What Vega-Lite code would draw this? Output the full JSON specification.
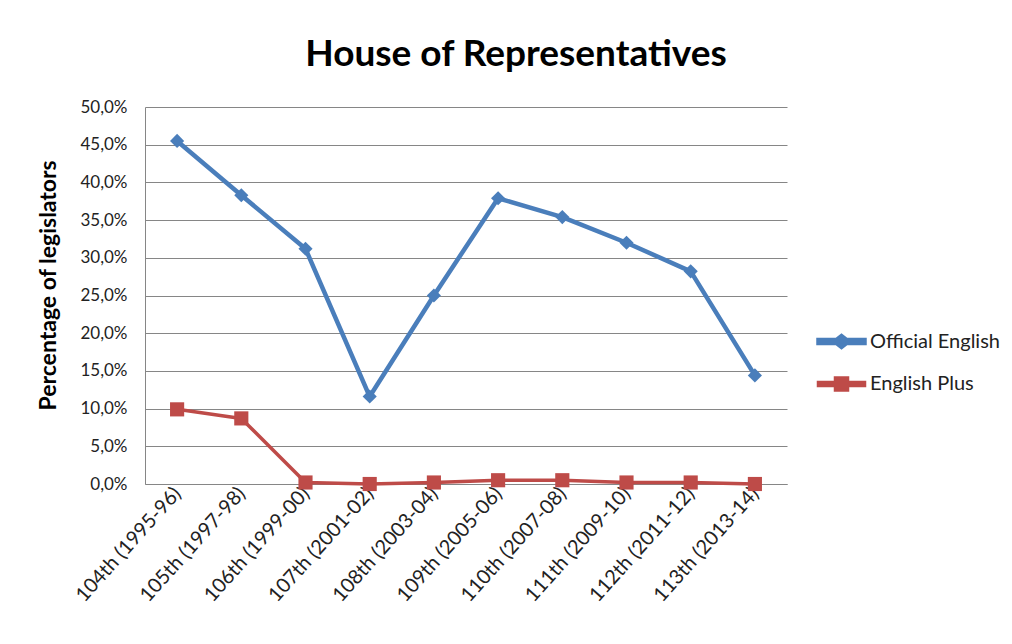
{
  "$schema": "https://vega.github.io/schema/vega-lite/v6.json",
  "autosize": {"type": "none"},
  "width": 642,
  "height": 377,
  "padding": {"left": 145, "top": 107, "right": 225, "bottom": 160},
  "background": "white",
  "config": {
    "font": "Lato",
    "view": {"stroke": null}
  },
  "title": {
    "text": "House of Representatives",
    "fontSize": 37,
    "fontWeight": "bold",
    "color": "#000000",
    "anchor": "middle",
    "frame": "group",
    "dx": 50,
    "offset": 24
  },
  "data": {
    "values": [
      {"congress": "104th (1995-96)", "series": "Official English", "pct": 0.455},
      {"congress": "105th (1997-98)", "series": "Official English", "pct": 0.383},
      {"congress": "106th (1999-00)", "series": "Official English", "pct": 0.312},
      {"congress": "107th (2001-02)", "series": "Official English", "pct": 0.116},
      {"congress": "108th (2003-04)", "series": "Official English", "pct": 0.250},
      {"congress": "109th (2005-06)", "series": "Official English", "pct": 0.379},
      {"congress": "110th (2007-08)", "series": "Official English", "pct": 0.354},
      {"congress": "111th (2009-10)", "series": "Official English", "pct": 0.320},
      {"congress": "112th (2011-12)", "series": "Official English", "pct": 0.282},
      {"congress": "113th (2013-14)", "series": "Official English", "pct": 0.144},
      {"congress": "104th (1995-96)", "series": "English Plus", "pct": 0.099},
      {"congress": "105th (1997-98)", "series": "English Plus", "pct": 0.087},
      {"congress": "106th (1999-00)", "series": "English Plus", "pct": 0.002},
      {"congress": "107th (2001-02)", "series": "English Plus", "pct": 0.000},
      {"congress": "108th (2003-04)", "series": "English Plus", "pct": 0.002},
      {"congress": "109th (2005-06)", "series": "English Plus", "pct": 0.005},
      {"congress": "110th (2007-08)", "series": "English Plus", "pct": 0.005},
      {"congress": "111th (2009-10)", "series": "English Plus", "pct": 0.002},
      {"congress": "112th (2011-12)", "series": "English Plus", "pct": 0.002},
      {"congress": "113th (2013-14)", "series": "English Plus", "pct": 0.000}
    ]
  },
  "encoding": {
    "x": {
      "field": "congress",
      "type": "nominal",
      "sort": null,
      "scale": {"type": "point", "padding": 0.5},
      "axis": {
        "title": null,
        "labelAngle": -48,
        "labelAlign": "right",
        "labelBaseline": "middle",
        "labelFontSize": 20,
        "labelColor": "#222222",
        "labelPadding": 6,
        "ticks": false,
        "domainColor": "#868686",
        "domainWidth": 1,
        "grid": false
      }
    },
    "y": {
      "field": "pct",
      "type": "quantitative",
      "scale": {"domain": [0, 0.5], "nice": false},
      "axis": {
        "title": "Percentage of legislators",
        "titleFontSize": 23,
        "titleFontWeight": "bold",
        "titleColor": "#000000",
        "titleX": -97,
        "titleY": 303,
        "titleAngle": -90,
        "titleAlign": "left",
        "titleBaseline": "middle",
        "values": [0, 0.05, 0.1, 0.15, 0.2, 0.25, 0.3, 0.35, 0.4, 0.45, 0.5],
        "labelExpr": "replace(format(datum.value, '.1%'), '.', ',')",
        "labelFontSize": 17,
        "labelColor": "#222222",
        "labelPadding": 18,
        "ticks": false,
        "domainColor": "#868686",
        "gridColor": "#868686",
        "gridWidth": 1
      }
    },
    "color": {
      "field": "series",
      "type": "nominal",
      "scale": {"domain": ["Official English", "English Plus"], "range": ["#4A7EBB", "#BE4B48"]},
      "legend": {
        "title": null,
        "orient": "none",
        "legendX": 674,
        "legendY": 212,
        "labelFontSize": 20,
        "labelColor": "#222222",
        "symbolSize": 1600,
        "labelOffset": 6,
        "rowPadding": 6,
        "encode": {
          "symbols": {
            "update": {
              "shape": {"signal": "datum.value === 'Official English' ? 'M-1.15,-0.075L-0.25,-0.075L0,-0.27L0.25,-0.075L1.15,-0.075L1.15,0.075L0.25,0.075L0,0.27L-0.25,0.075L-1.15,0.075Z' : 'M-1.15,-0.075L-0.3,-0.075L-0.3,-0.3L0.3,-0.3L0.3,-0.075L1.15,-0.075L1.15,0.075L0.3,0.075L0.3,0.3L-0.3,0.3L-0.3,0.075L-1.15,0.075Z'"},
              "fill": {"scale": "color", "field": "value"},
              "stroke": {"value": "transparent"},
              "strokeWidth": {"value": 0},
              "opacity": {"value": 1}
            }
          }
        }
      }
    }
  },
  "layer": [
    {
      "mark": {"type": "line", "strokeJoin": "round"},
      "encoding": {
        "strokeWidth": {
          "field": "series",
          "type": "nominal",
          "scale": {"domain": ["Official English", "English Plus"], "range": [4.5, 3.5]},
          "legend": null
        }
      }
    },
    {
      "transform": [{"filter": "datum.series === 'Official English'"}],
      "mark": {"type": "point", "filled": true, "opacity": 1, "size": 200, "shape": "diamond"}
    },
    {
      "transform": [{"filter": "datum.series === 'English Plus'"}],
      "mark": {"type": "point", "filled": true, "opacity": 1, "size": 200, "shape": "square"}
    }
  ]
}
